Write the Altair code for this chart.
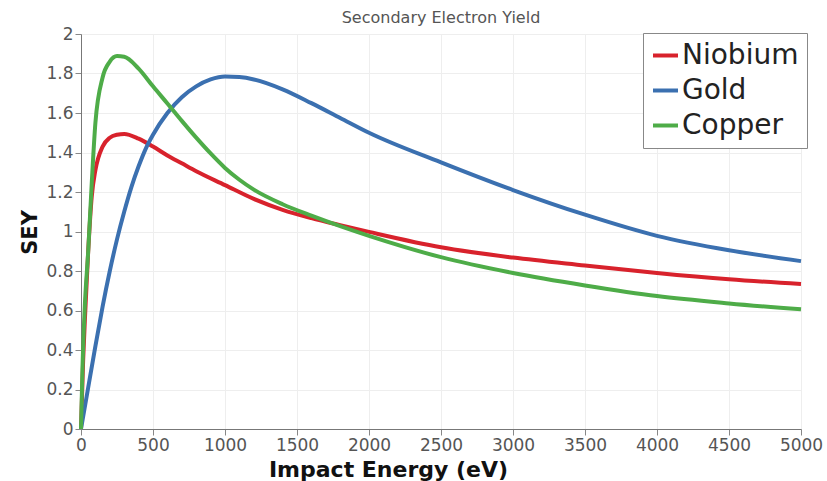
import altair as alt
import pandas as pd

niobium_x = [0, 15, 30, 50, 75, 100, 150, 200, 250, 300, 400, 500, 600, 700, 800, 1000, 1200, 1400, 1600, 1800, 2000, 2500, 3000, 3500, 4000, 4500, 5000]
niobium_y = [0, 0.35, 0.6, 0.9, 1.18, 1.31, 1.43, 1.475, 1.49, 1.494, 1.47, 1.43, 1.385, 1.345, 1.305, 1.235, 1.165, 1.11, 1.068, 1.032, 0.998, 0.92, 0.868, 0.828, 0.79, 0.758, 0.734]

gold_x = [0, 50, 100, 150, 200, 250, 300, 350, 400, 450, 500, 600, 700, 800, 900, 1000, 1100, 1200, 1400, 1600, 1800, 2000, 2500, 3000, 3500, 4000, 4500, 5000]
gold_y = [0, 0.21, 0.42, 0.62, 0.80, 0.96, 1.10, 1.225, 1.33, 1.42, 1.49, 1.60, 1.68, 1.735, 1.77, 1.785, 1.782, 1.77, 1.72, 1.65, 1.575, 1.50, 1.35, 1.21, 1.085, 0.978, 0.905, 0.85]

copper_x = [0, 10, 25, 50, 75, 100, 150, 200, 250, 300, 400, 500, 600, 700, 800, 900, 1000, 1100, 1200, 1400, 1600, 1800, 2000, 2500, 3000, 3500, 4000, 4500, 5000]
copper_y = [0, 0.3, 0.6, 0.9, 1.25, 1.55, 1.78, 1.86, 1.888, 1.885, 1.825, 1.735, 1.648, 1.56, 1.475, 1.395, 1.322, 1.262, 1.212, 1.138, 1.08, 1.027, 0.978, 0.87, 0.79, 0.727, 0.673, 0.636, 0.606]

materials = ["Niobium", "Gold", "Copper"]
colors = ["#d8222c", "#3b70b0", "#4eac48"]
x_ticks = [0, 500, 1000, 1500, 2000, 2500, 3000, 3500, 4000, 4500, 5000]
y_ticks = [0, 0.2, 0.4, 0.6, 0.8, 1, 1.2, 1.4, 1.6, 1.8, 2]

rows = []
for name, xs, ys in [("Niobium", niobium_x, niobium_y), ("Gold", gold_x, gold_y), ("Copper", copper_x, copper_y)]:
    for xv, yv in zip(xs, ys):
        rows.append({"Material": name, "E": xv, "SEY": yv})
df = pd.DataFrame(rows)

FONT = "DejaVu Sans"
axis_common = dict(
    labelFont=FONT, labelFontSize=17, labelColor="#555",
    titleFont=FONT, titleFontWeight="bold", titleColor="#111",
    domainColor="#777", tickColor="#888", tickSize=6, grid=True, gridColor="#eeeeee",
    labelPadding=2, labelFlush=False, labelOverlap=False,
)

chart = alt.Chart(df).mark_line(strokeWidth=4, interpolate="monotone").encode(
    x=alt.X("E:Q", scale=alt.Scale(domain=[0, 5000], nice=False),
            axis=alt.Axis(values=x_ticks, format="d", title="Impact Energy (eV)",
                          titleFontSize=22,
                          titleX=307, titleY=40, titleAlign="center", titleBaseline="middle",
                          **axis_common)),
    y=alt.Y("SEY:Q", scale=alt.Scale(domain=[0, 2], nice=False),
            axis=alt.Axis(values=y_ticks, format="~g", title="SEY",
                          titleFontSize=21,
                          titleX=-51, titleY=198, titleAlign="center", titleBaseline="middle",
                          **axis_common)),
    color=alt.Color("Material:N", sort=materials,
                    scale=alt.Scale(domain=materials, range=colors),
                    legend=alt.Legend(title=None, orient="none", legendX=562, legendY=-1,
                                      symbolType="stroke", symbolStrokeWidth=4, symbolSize=625,
                                      labelFontSize=28, labelFont=FONT, labelColor="#222",
                                      rowPadding=6, padding=8, strokeColor="#888",
                                      fillColor="white", labelOffset=2, symbolOffset=0)),
).properties(
    width=720, height=395,
    title=alt.TitleParams("Secondary Electron Yield", fontSize=16, font=FONT, color="#555",
                          fontWeight="normal", offset=-1, anchor="middle"),
    autosize=alt.AutoSizeParams(type="none"),
    padding={"left": 81, "top": 34, "right": 26, "bottom": 52},
).configure_view(stroke=None).configure(background="white")

chart.save("out.html", embed_options={"renderer": "svg", "actions": False})
